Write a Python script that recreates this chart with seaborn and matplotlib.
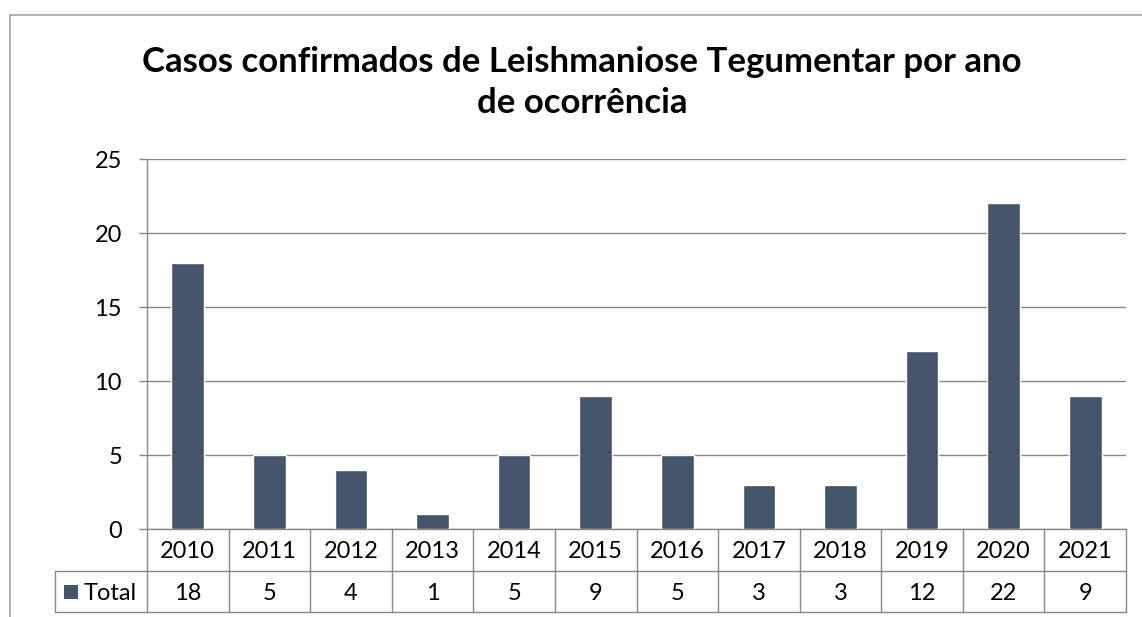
import matplotlib
matplotlib.use("Agg")
import matplotlib.pyplot as plt
import matplotlib.transforms as mtransforms
from matplotlib.lines import Line2D
from matplotlib.patches import Rectangle
import seaborn as sns
import pandas as pd

years = ["2010", "2011", "2012", "2013", "2014", "2015", "2016", "2017", "2018", "2019", "2020", "2021"]
totals = [18, 5, 4, 1, 5, 9, 5, 3, 3, 12, 22, 9]
series_name = "Total"
title_lines = ["Casos confirmados de Leishmaniose Tegumentar por ano", "de ocorrência"]
y_ticks = [0, 5, 10, 15, 20, 25]

BAR = "#44546A"
GRID = "#878787"
FRAME = "#A6A6A6"
FONT = "Lato"
FS = 17

sns.set_theme(style="white")
plt.rcParams["font.family"] = [FONT, "DejaVu Sans"]

W, H = 1142, 617
fig = plt.figure(figsize=(W / 100, H / 100), dpi=100)

def fx(x):
    return x / W

def fy(y):
    return 1 - y / H

# plot area pixels
L, R, T, B = 147, 1126, 159, 529
ax = fig.add_axes([fx(L), fy(B), fx(R) - fx(L), fy(T) - fy(B)])

df = pd.DataFrame({"ano": years, "casos": totals})
sns.barplot(data=df, x="ano", y="casos", color=BAR, saturation=1, width=0.4, ax=ax, zorder=3)

ax.set_xlim(-0.5, len(years) - 0.5)
ax.set_ylim(0, 25)
ax.set_yticks(y_ticks)
ax.yaxis.grid(True, color=GRID, linewidth=1.0, zorder=0)
ax.set_axisbelow(True)
ax.set_xlabel("")
ax.set_ylabel("")
ax.set_xticks([])
for s in ["top", "right"]:
    ax.spines[s].set_visible(False)
ax.spines["left"].set_color(GRID)
ax.spines["left"].set_linewidth(1.0)
ax.spines["bottom"].set_color(GRID)
ax.spines["bottom"].set_linewidth(1.0)
ax.tick_params(axis="y", which="major", left=True, length=6, width=1.0, color=GRID,
               pad=12, labelsize=FS, labelcolor="black")

# title (two lines, Excel-style centred)
for line, base in zip(title_lines, [72, 113]):
    fig.text(fx(582), fy(base), line, ha="center", va="baseline", fontsize=25,
             fontweight="bold", color="black")

# data table
blend = mtransforms.blended_transform_factory(ax.transData, fig.transFigure)
row1_bot, row2_bot = 571, 612
key_left = 55
lw = 1.0
n = len(years)
for i in range(n + 1):
    xx = i - 0.5
    fig.add_artist(Line2D([xx, xx], [fy(B), fy(row2_bot)], transform=blend, color=GRID, lw=lw))
fig.add_artist(Line2D([fx(key_left), fx(R)], [fy(row1_bot), fy(row1_bot)], transform=fig.transFigure, color=GRID, lw=lw))
fig.add_artist(Line2D([fx(key_left), fx(R)], [fy(row2_bot), fy(row2_bot)], transform=fig.transFigure, color=GRID, lw=lw))
fig.add_artist(Line2D([fx(key_left), fx(key_left)], [fy(row1_bot), fy(row2_bot)], transform=fig.transFigure, color=GRID, lw=lw))

for i, (yr, v) in enumerate(zip(years, totals)):
    fig.text(i, fy((B + row1_bot) / 2), yr, transform=blend, ha="center", va="center_baseline",
             fontsize=FS, color="black")
    fig.text(i, fy((row1_bot + row2_bot) / 2), str(v), transform=blend, ha="center", va="center_baseline",
             fontsize=FS, color="black")

# legend key
fig.add_artist(Rectangle((fx(64), fy(599)), fx(14), fy(585) - fy(599), transform=fig.transFigure,
                         facecolor=BAR, edgecolor="none"))
fig.text(fx(84), fy((row1_bot + row2_bot) / 2), series_name, ha="left", va="center_baseline",
         fontsize=FS, color="black")

# chart area frame (left and top edges visible)
fig.add_artist(Line2D([fx(10), fx(10)], [fy(15), 0], transform=fig.transFigure, color=FRAME, lw=1.2))
fig.add_artist(Line2D([fx(10), 1], [fy(15), fy(15)], transform=fig.transFigure, color=FRAME, lw=1.2))

fig.savefig("out.png", dpi=100)
